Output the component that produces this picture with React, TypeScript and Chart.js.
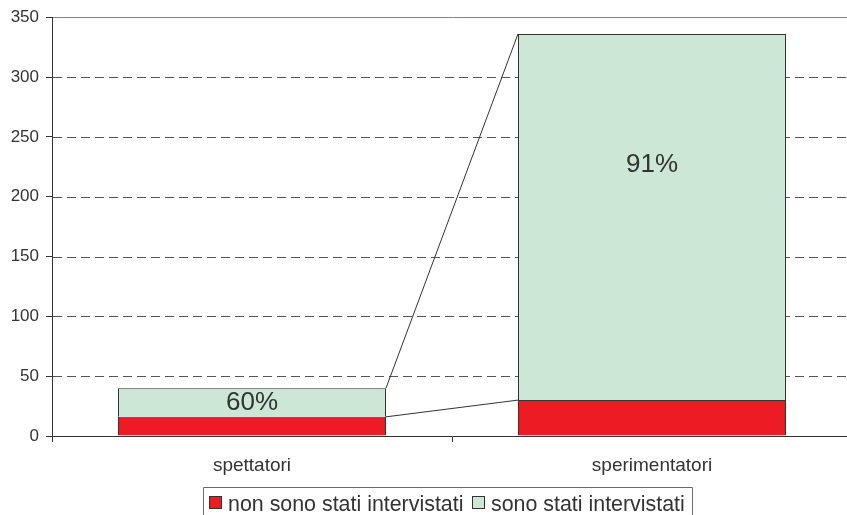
import React, { useEffect, useRef } from "react";
import { Chart, registerables } from "chart.js";

Chart.register(...registerables);

const categories = ["spettatori", "sperimentatori"];
const seriesNames = ["non sono stati intervistati", "sono stati intervistati"];
const notInterviewed = [16, 30];
const interviewed = [24, 306];
const pctLabelAt = [28, 227];
const yTicks = [0, 50, 100, 150, 200, 250, 300, 350];

const RED = "#ED1C24";
const GREEN = "#CCE7D5";
const DARK = "#333333";
const FONT = "'Liberation Sans', Arial, Helvetica, sans-serif";

const overlayPlugin = {
  id: "overlay",
  beforeDatasetsDraw(chart: any) {
    const { ctx, chartArea, scales } = chart;
    const y = scales.y;
    ctx.save();
    yTicks.forEach((v) => {
      if (v === 0) return;
      const py = Math.round(y.getPixelForValue(v)) + 0.5;
      ctx.beginPath();
      if (v === yTicks[yTicks.length - 1]) {
        ctx.setLineDash([]);
        ctx.strokeStyle = "#8a8282";
      } else {
        ctx.setLineDash([9, 5]);
        ctx.strokeStyle = "#555555";
      }
      ctx.lineWidth = 1;
      ctx.moveTo(chartArea.left + 1, py);
      ctx.lineTo(chartArea.right, py);
      ctx.stroke();
    });
    ctx.restore();
  },
  afterDatasetsDraw(chart: any) {
    const { ctx, scales } = chart;
    ctx.save();
    ctx.strokeStyle = DARK;
    ctx.lineWidth = 1;
    ctx.setLineDash([]);
    chart.data.datasets.forEach((_: any, di: number) => {
      const meta = chart.getDatasetMeta(di);
      const a = meta.data[0];
      const b = meta.data[1];
      ctx.beginPath();
      ctx.moveTo(a.x + a.width / 2, a.y);
      ctx.lineTo(b.x - b.width / 2, b.y);
      ctx.stroke();
    });
    ctx.fillStyle = DARK;
    ctx.font = `26px ${FONT}`;
    ctx.textAlign = "center";
    ctx.textBaseline = "middle";
    const meta = chart.getDatasetMeta(1);
    categories.forEach((_, i) => {
      const pct = Math.round((interviewed[i] / (interviewed[i] + notInterviewed[i])) * 100);
      const py = scales.y.getPixelForValue(pctLabelAt[i]);
      ctx.fillText(`${pct}%`, meta.data[i].x, py);
    });
    ctx.restore();
  },
  afterDraw(chart: any) {
    const { ctx } = chart;
    ctx.save();
    ctx.font = `21.4px ${FONT}`;
    ctx.textBaseline = "alphabetic";
    ctx.textAlign = "left";
    const box = 13;
    const gapBox = 6;
    const gapItem = 9;
    const pad = 6;
    const colors = [RED, GREEN];
    const widths = seriesNames.map((s) => ctx.measureText(s).width);
    const total = widths.reduce((s, w) => s + box + gapBox + w, 0) + gapItem + pad * 2;
    const left = 203.5;
    const top = 487.5;
    const right = Math.round(left + total) + 0.5;
    ctx.strokeStyle = "#6b6b6b";
    ctx.lineWidth = 1;
    ctx.beginPath();
    ctx.moveTo(left, chart.height + 2);
    ctx.lineTo(left, top);
    ctx.lineTo(right, top);
    ctx.lineTo(right, chart.height + 2);
    ctx.stroke();
    let x = Math.round(left + pad - 0.5);
    seriesNames.forEach((s, i) => {
      ctx.fillStyle = colors[i];
      ctx.fillRect(x, 496, box, box);
      ctx.strokeStyle = DARK;
      ctx.strokeRect(x + 0.5, 496.5, box - 1, box - 1);
      ctx.fillStyle = DARK;
      ctx.fillText(s, x + box + gapBox, 511);
      x = Math.round(x + box + gapBox + widths[i] + gapItem);
    });
    ctx.restore();
  },
};

export default function App() {
  const ref = useRef<HTMLCanvasElement>(null);
  useEffect(() => {
    if (!ref.current) return;
    const chart = new Chart(ref.current, {
      type: "bar",
      data: {
        labels: categories,
        datasets: [
          {
            label: seriesNames[0],
            data: notInterviewed,
            backgroundColor: RED,
            borderColor: DARK,
            borderWidth: 1,
          },
          {
            label: seriesNames[1],
            data: interviewed,
            backgroundColor: GREEN,
            borderColor: DARK,
            borderWidth: 1,
          },
        ],
      },
      plugins: [overlayPlugin],
      options: {
        responsive: false,
        animation: false,
        layout: { padding: { top: 15, right: 0, left: 0, bottom: 0 } },
        datasets: { bar: { categoryPercentage: 1, barPercentage: 0.67 } },
        plugins: { legend: { display: false }, tooltip: { enabled: false } },
        scales: {
          x: {
            stacked: true,
            grid: {
              offset: true,
              drawOnChartArea: false,
              drawTicks: true,
              tickLength: 6,
              color: DARK,
            },
            border: { color: DARK, width: 1 },
            ticks: { color: DARK, font: { family: FONT, size: 19 }, padding: 12 },
            afterFit(s: any) {
              s.height = 79;
            },
          },
          y: {
            stacked: true,
            min: 0,
            max: 350,
            afterBuildTicks(s: any) {
              s.ticks = yTicks.map((v) => ({ value: v }));
            },
            grid: {
              drawOnChartArea: false,
              drawTicks: true,
              tickLength: 6,
              color: DARK,
            },
            border: { color: DARK, width: 1 },
            ticks: { color: DARK, font: { family: FONT, size: 17 }, padding: 7 },
            afterFit(s: any) {
              s.width = 52;
            },
          },
        },
      },
    });
    return () => chart.destroy();
  }, []);
  return (
    <div style={{ position: "fixed", left: 0, top: 0, width: 847, height: 515, overflow: "hidden", background: "#fff" }}>
      <canvas ref={ref} width={852} height={515} style={{ display: "block" }} />
    </div>
  );
}
